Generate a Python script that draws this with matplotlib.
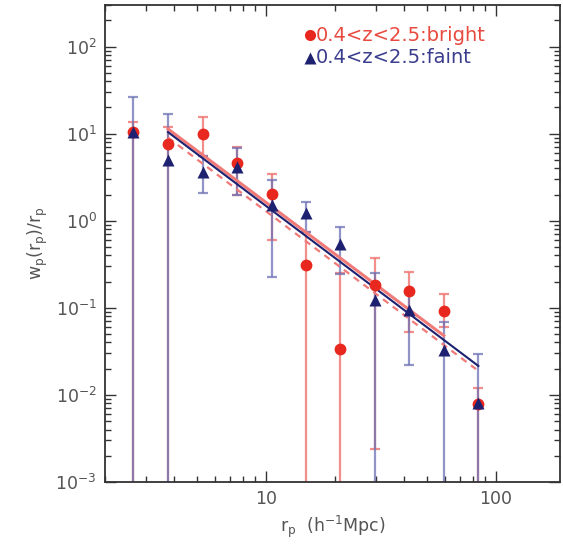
import numpy as np
import matplotlib
matplotlib.use("Agg")
import matplotlib.pyplot as plt
from matplotlib.ticker import LogLocator, FixedLocator, FixedFormatter, LogFormatterMathtext, NullFormatter

# projected separation bins (h^-1 Mpc)
rp = [2.66, 3.76, 5.31, 7.50, 10.6, 14.96, 21.1, 29.8, 42.1, 59.4, 84.0]

# bright sample: value, upper and lower ends of error bars (1e-6 = runs off the bottom)
bright_w = [10.5, 7.7, 9.9, 4.56, 2.01, 0.31, 0.034, 0.185, 0.157, 0.092, 0.0078]
bright_hi = [13.5, 12.0, 15.6, 7.1, 3.45, 0.75, 0.25, 0.37, 0.26, 0.143, 0.012]
bright_lo = [1e-6, 1e-6, 5.5, 1.95, 0.60, 1e-6, 1e-6, 0.0024, 0.053, 0.06, 1e-6]

# faint sample
faint_w = [10.5, 5.0, 3.66, 4.17, 1.50, 1.24, 0.54, 0.124, 0.094, 0.033, 0.0081]
faint_hi = [26.5, 16.8, 5.5, 6.8, 2.93, 1.65, 0.84, 0.253, 0.15, 0.069, 0.0295]
faint_lo = [1e-6, 1e-6, 2.08, 2.0, 0.227, 0.75, 0.244, 1e-6, 0.022, 1e-6, 1e-6]

# power-law fits (end points of straight lines in log-log)
fit_bright_x = [3.76, 59.4]
fit_bright_y = [11.3, 0.048]
fit_bright2_x = [3.76, 82.0]
fit_bright2_y = [9.0, 0.0198]
fit_faint_x = [3.76, 84.0]
fit_faint_y = [10.4, 0.0215]

red = "#e8281e"
red_err = "#f07a78"
blue = "#1e2170"
blue_err = "#6d70b4"

fig = plt.figure(figsize=(5.63, 5.45), dpi=100)
ax = fig.add_axes([0.1865, 0.1156, 0.808, 0.8752])
ax.set_xscale("log")
ax.set_yscale("log")

rp_a = np.array(rp)

# error bars
bw = np.array(bright_w)
ax.errorbar(rp_a, bw, yerr=[bw - np.array(bright_lo), np.array(bright_hi) - bw],
            fmt="none", ecolor=red_err, elinewidth=1.6, capsize=3.5, capthick=1.6, alpha=0.85, zorder=2)
fw = np.array(faint_w)
ax.errorbar(rp_a, fw, yerr=[fw - np.array(faint_lo), np.array(faint_hi) - fw],
            fmt="none", ecolor=blue_err, elinewidth=1.6, capsize=3.5, capthick=1.6, alpha=0.75, zorder=2)

# fits
ax.plot(fit_bright_x, fit_bright_y, color=red_err, lw=2.2, zorder=3)
ax.plot(fit_bright2_x, fit_bright2_y, color=red_err, lw=1.6, ls=(0, (3, 2.5)), zorder=3)
ax.plot(fit_faint_x, fit_faint_y, color=blue, lw=1.5, zorder=3)

# points
ax.plot(rp, bright_w, "o", color=red, ms=8.5, mec="none", zorder=4)
ax.plot(rp, faint_w, "^", color=blue, ms=8, mec="none", zorder=5)

ax.set_xlim(2, 190)
ax.set_ylim(1e-3, 300)

# ticks
ax.xaxis.set_major_locator(FixedLocator([10, 100]))
ax.xaxis.set_major_formatter(FixedFormatter(["10", "100"]))
ax.xaxis.set_minor_locator(LogLocator(base=10, subs=np.arange(2, 10)))
ax.xaxis.set_minor_formatter(NullFormatter())
ax.yaxis.set_major_locator(LogLocator(base=10, numticks=10))
ax.yaxis.set_major_formatter(LogFormatterMathtext())
ax.yaxis.set_minor_locator(LogLocator(base=10, subs=np.arange(2, 10), numticks=20))
ax.yaxis.set_minor_formatter(NullFormatter())
ax.tick_params(which="both", direction="in", top=True, right=True, color="#333333")
ax.tick_params(which="major", length=8, width=1.0, labelsize=12.5, labelcolor="#555555", pad=6)
ax.tick_params(which="minor", length=4, width=1.0)
for s in ax.spines.values():
    s.set_linewidth(1.3)
    s.set_color("#333333")

ax.set_xlabel(r"r$_{\rm p}$  (h$^{-1}$Mpc)", fontsize=12.5, color="#555555", labelpad=4)
ax.set_ylabel(r"w$_{\rm p}$(r$_{\rm p}$)/r$_{\rm p}$", fontsize=12.5, color="#555555", labelpad=4)

# legend drawn by hand
ax.plot([0.45], [0.937], "o", color=red, ms=8, mec="none", transform=ax.transAxes)
ax.text(0.463, 0.937, "0.4<z<2.5:bright", color="#e84a40", fontsize=14,
        transform=ax.transAxes, va="center", ha="left")
ax.plot([0.45], [0.889], "^", color=blue, ms=8, mec="none", transform=ax.transAxes)
ax.text(0.463, 0.889, "0.4<z<2.5:faint", color="#3a3d8c", fontsize=14,
        transform=ax.transAxes, va="center", ha="left")

fig.savefig("out.png", dpi=100)
